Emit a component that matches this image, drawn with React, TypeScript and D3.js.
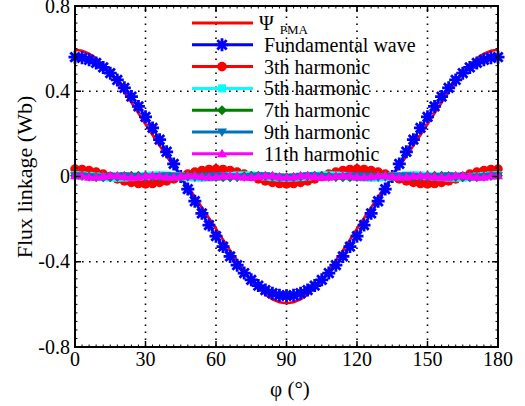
import React from "react";
import * as d3 from "d3";

// angle samples, 3 degree steps from 0 to 180
const phi = d3.range(0, 181, 3);

const psiPMA = [
  0.595, 0.59, 0.576, 0.554, 0.523, 0.485, 0.442, 0.395, 0.347, 0.296, 0.245,
  0.195, 0.145, 0.095, 0.048, 0.0, -0.048, -0.095, -0.145, -0.195, -0.245,
  -0.296, -0.347, -0.395, -0.442, -0.485, -0.523, -0.554, -0.576, -0.59, -0.595,
  -0.59, -0.576, -0.554, -0.523, -0.485, -0.442, -0.395, -0.347, -0.296, -0.245,
  -0.195, -0.145, -0.095, -0.048, 0.0, 0.048, 0.095, 0.145, 0.195, 0.245, 0.296,
  0.347, 0.395, 0.442, 0.485, 0.523, 0.554, 0.576, 0.59, 0.595,
];

const fundamental = [
  0.56, 0.557, 0.548, 0.533, 0.512, 0.485, 0.453, 0.416, 0.375, 0.329, 0.28,
  0.228, 0.173, 0.116, 0.059, 0.0, -0.059, -0.116, -0.173, -0.228, -0.28,
  -0.329, -0.375, -0.416, -0.453, -0.485, -0.512, -0.533, -0.548, -0.557, -0.56,
  -0.557, -0.548, -0.533, -0.512, -0.485, -0.453, -0.416, -0.375, -0.329, -0.28,
  -0.228, -0.173, -0.116, -0.059, 0.0, 0.059, 0.116, 0.173, 0.228, 0.28, 0.329,
  0.375, 0.416, 0.453, 0.485, 0.512, 0.533, 0.548, 0.557, 0.56,
];

const h3 = [
  0.035, 0.033, 0.028, 0.021, 0.011, 0, -0.011, -0.021, -0.028, -0.033, -0.035,
  -0.033, -0.028, -0.021, -0.011, 0, 0.011, 0.021, 0.028, 0.033, 0.035, 0.033,
  0.028, 0.021, 0.011, 0, -0.011, -0.021, -0.028, -0.033, -0.035, -0.033, -0.028,
  -0.021, -0.011, 0, 0.011, 0.021, 0.028, 0.033, 0.035, 0.033, 0.028, 0.021,
  0.011, 0, -0.011, -0.021, -0.028, -0.033, -0.035, -0.033, -0.028, -0.021,
  -0.011, 0, 0.011, 0.021, 0.028, 0.033, 0.035,
];

const h5 = [
  0.006, 0.005, 0.003, 0, -0.003, -0.005, -0.006, -0.005, -0.003, 0, 0.003, 0.005,
  0.006, 0.005, 0.003, 0, -0.003, -0.005, -0.006, -0.005, -0.003, 0, 0.003, 0.005,
  0.006, 0.005, 0.003, 0, -0.003, -0.005, -0.006, -0.005, -0.003, 0, 0.003, 0.005,
  0.006, 0.005, 0.003, 0, -0.003, -0.005, -0.006, -0.005, -0.003, 0, 0.003, 0.005,
  0.006, 0.005, 0.003, 0, -0.003, -0.005, -0.006, -0.005, -0.003, 0, 0.003, 0.005,
  0.006,
];

const h7 = [
  0.004, 0.003, 0, -0.002, -0.004, -0.003, -0.001, 0.002, 0.004, 0.004, 0.002,
  -0.001, -0.003, -0.004, -0.003, 0, 0.003, 0.004, 0.003, 0.001, -0.002, -0.004,
  -0.004, -0.002, 0.001, 0.003, 0.004, 0.002, 0, -0.003, -0.004, -0.003, 0,
  0.002, 0.004, 0.003, 0.001, -0.002, -0.004, -0.004, -0.002, 0.001, 0.003,
  0.004, 0.003, 0, -0.003, -0.004, -0.003, -0.001, 0.002, 0.004, 0.004, 0.002,
  -0.001, -0.003, -0.004, -0.002, 0, 0.003, 0.004,
];

const h9 = [
  0.003, 0.002, -0.001, -0.003, -0.002, 0, 0.002, 0.003, 0.001, -0.002, -0.003,
  -0.002, 0.001, 0.003, 0.002, 0, -0.002, -0.003, -0.001, 0.002, 0.003, 0.002,
  -0.001, -0.003, -0.002, 0, 0.002, 0.003, 0.001, -0.002, -0.003, -0.002, 0.001,
  0.003, 0.002, 0, -0.002, -0.003, -0.001, 0.002, 0.003, 0.002, -0.001, -0.003,
  -0.002, 0, 0.002, 0.003, 0.001, -0.002, -0.003, -0.002, 0.001, 0.003, 0.002,
  0, -0.002, -0.003, -0.001, 0.002, 0.003,
];

const h11 = [
  0.004, 0.002, -0.003, -0.004, 0, 0.003, 0.003, -0.001, -0.004, -0.002, 0.002,
  0.004, 0.001, -0.003, -0.004, 0, 0.004, 0.003, -0.001, -0.004, -0.002, 0.002,
  0.004, 0.001, -0.003, -0.003, 0, 0.004, 0.003, -0.002, -0.004, -0.002, 0.003,
  0.004, 0, -0.003, -0.003, 0.001, 0.004, 0.002, -0.002, -0.004, -0.001, 0.003,
  0.004, 0, -0.004, -0.003, 0.001, 0.004, 0.002, -0.001, -0.004, -0.003, 0.003,
  0.003, 0, -0.004, -0.003, 0.002, 0.004,
];

const xTicks = [0, 30, 60, 90, 120, 150, 180];
const yTicks = [-0.8, -0.4, 0, 0.4, 0.8];
const yTickLabels = ["-0.8", "-0.4", "0", "0.4", "0.8"];

const series = [
  { name: "Ψ", sub: "PMA", values: psiPMA, color: "#ff0000", marker: "none" },
  { name: "Fundamental wave", values: fundamental, color: "#0000ff", marker: "star" },
  { name: "3th harmonic", values: h3, color: "#ff0000", marker: "circle" },
  { name: "5th harmonic", values: h5, color: "#00ffff", marker: "square" },
  { name: "7th harmonic", values: h7, color: "#008000", marker: "diamond" },
  { name: "9th harmonic", values: h9, color: "#0072bd", marker: "down" },
  { name: "11th harmonic", values: h11, color: "#ff00ff", marker: "up" },
];

const font = "'Liberation Serif', 'Times New Roman', serif";

const Marker = ({ type, x, y, color }) => {
  if (type === "circle") return <circle cx={x} cy={y} r={4.8} fill={color} />;
  if (type === "square")
    return <rect x={x - 4} y={y - 4} width={8} height={8} fill={color} />;
  if (type === "diamond")
    return <path d={`M${x},${y - 5}L${x + 5},${y}L${x},${y + 5}L${x - 5},${y}Z`} fill={color} />;
  if (type === "down")
    return <path d={`M${x - 5},${y - 3.5}L${x + 5},${y - 3.5}L${x},${y + 5}Z`} fill={color} />;
  if (type === "up")
    return <path d={`M${x - 5},${y + 3.5}L${x + 5},${y + 3.5}L${x},${y - 5}Z`} fill={color} />;
  if (type === "star") {
    const s = 6.5;
    const d = s * 0.72;
    return (
      <path
        d={`M${x - s},${y}L${x + s},${y}M${x},${y - s}L${x},${y + s}M${x - d},${y - d}L${x + d},${y + d}M${x - d},${y + d}L${x + d},${y - d}`}
        stroke={color}
        strokeWidth={2.8}
      />
    );
  }
  return null;
};

export default function App() {
  const left = 75, right = 498, top = 6, bottom = 347;
  const x = d3.scaleLinear().domain([0, 180]).range([left, right]);
  const y = d3.scaleLinear().domain([-0.8, 0.8]).range([bottom, top]);

  const line = d3
    .line<number>()
    .x((_, i) => x(phi[i]))
    .y((d) => y(d));

  const xMinor = d3.range(0, 181, 3);
  const yMinor = d3.range(-0.8, 0.801, 0.04);

  return (
    <svg
      width={525}
      height={406}
      style={{ position: "absolute", left: 0, top: 0, background: "#fff" }}
      fontFamily={font}
    >
      {/* grid */}
      <g stroke="#000" strokeWidth={1.6} strokeDasharray="1.6 5.4">
        {xTicks.slice(1, -1).map((t) => (
          <line key={"gx" + t} x1={x(t)} x2={x(t)} y1={bottom} y2={top} />
        ))}
        {yTicks.slice(1, -1).map((t) => (
          <line key={"gy" + t} x1={left} x2={right} y1={y(t)} y2={y(t)} />
        ))}
      </g>

      {/* series */}
      {series.map((s) => (
        <g key={s.name + (s.sub || "")}>
          <path d={line(s.values) || ""} fill="none" stroke={s.color} strokeWidth={2.6} />
          {s.marker !== "none" &&
            s.values.map((v, i) => (
              <Marker key={i} type={s.marker} x={x(phi[i])} y={y(v)} color={s.color} />
            ))}
        </g>
      ))}

      {/* frame and ticks */}
      <rect x={left} y={top} width={right - left} height={bottom - top} fill="none" stroke="#000" strokeWidth={2} />
      <g stroke="#000" strokeWidth={1}>
        {xMinor.map((t) => (
          <g key={"xm" + t}>
            <line x1={x(t)} x2={x(t)} y1={bottom} y2={bottom - 2.5} />
            <line x1={x(t)} x2={x(t)} y1={top} y2={top + 2.5} />
          </g>
        ))}
        {yMinor.map((t, i) => (
          <g key={"ym" + i}>
            <line x1={left} x2={left + 2.5} y1={y(t)} y2={y(t)} />
            <line x1={right} x2={right - 2.5} y1={y(t)} y2={y(t)} />
          </g>
        ))}
      </g>
      <g stroke="#000" strokeWidth={1.5}>
        {xTicks.map((t) => (
          <g key={"xt" + t}>
            <line x1={x(t)} x2={x(t)} y1={bottom} y2={bottom - 6} />
            <line x1={x(t)} x2={x(t)} y1={top} y2={top + 6} />
          </g>
        ))}
        {yTicks.map((t) => (
          <g key={"yt" + t}>
            <line x1={left} x2={left + 6} y1={y(t)} y2={y(t)} />
            <line x1={right} x2={right - 6} y1={y(t)} y2={y(t)} />
          </g>
        ))}
      </g>

      {/* tick labels */}
      <g fontSize={20} fill="#000">
        {xTicks.map((t) => (
          <text key={"xl" + t} x={x(t)} y={366} textAnchor="middle">
            {t}
          </text>
        ))}
        {yTicks.map((t, i) => (
          <text key={"yl" + t} x={left - 5} y={y(t)} dy="0.33em" textAnchor="end">
            {yTickLabels[i]}
          </text>
        ))}
      </g>

      {/* axis labels */}
      <text x={290} y={396} fontSize={21} textAnchor="middle">
        φ (°)
      </text>
      <text transform="translate(32,177) rotate(-90)" fontSize={22} textAnchor="middle">
        Flux linkage (Wb)
      </text>

      {/* legend */}
      <g>
        {series.map((s, i) => {
          const ly = 23 + i * 21.8;
          return (
            <g key={"lg" + i}>
              <line x1={192} x2={253} y1={ly} y2={ly} stroke={s.color} strokeWidth={3} />
              {s.marker !== "none" && <Marker type={s.marker} x={222} y={ly} color={s.color} />}
              <text x={s.sub ? 259 : 264} y={ly + 7} fontSize={20}>
                {s.name}
                {s.sub && (
                  <tspan fontSize={13} dx={6} dy={4}>
                    {s.sub}
                  </tspan>
                )}
              </text>
            </g>
          );
        })}
      </g>
    </svg>
  );
}
